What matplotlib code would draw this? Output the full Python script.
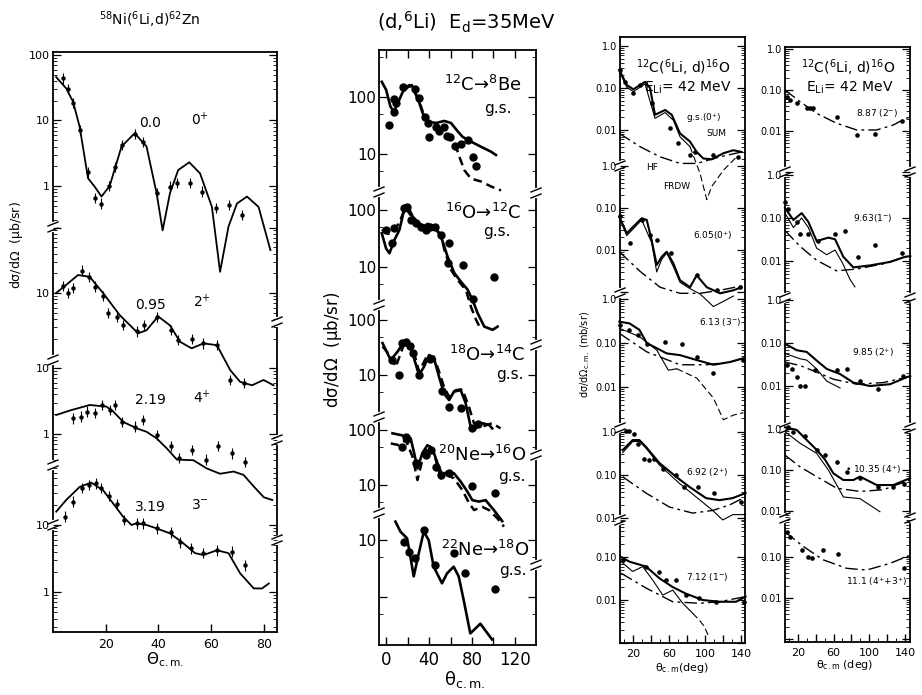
import numpy as np
import matplotlib
matplotlib.use("Agg")
import matplotlib.pyplot as plt
from matplotlib.ticker import LogLocator, FuncFormatter, NullFormatter, FixedLocator

plt.rcParams['font.family'] = ['DejaVu Sans']
plt.rcParams['mathtext.default'] = 'regular'

# ======================= DATA =======================
# ---- Panel 1 : 58Ni(6Li,d)62Zn ----
ni00_th_c = [1.2, 5.0, 7.6, 10.1, 13.3, 15.8, 18.4, 21.5, 26.0, 31.0, 35.5, 39.3, 41.6, 44.4, 47.5, 51.7, 55.8, 60.3, 63.4, 66.6, 69.8, 73.6, 78.0, 82.5]
ni00_c = [46, 31, 19.4, 8.05, 1.31, 0.98, 0.69, 1.0, 4.0, 6.4, 4.0, 0.78, 0.21, 0.78, 1.75, 2.3, 1.56, 0.48, 0.049, 0.24, 0.54, 0.69, 0.48, 0.105]
ni00_th_p = [3.7, 5.6, 7.5, 10.3, 13.3, 15.8, 18.4, 21.3, 23.4, 26.2, 31, 34.2, 39.3, 44.4, 46.9, 52, 56.4, 61.9, 66.8, 71.9]
ni00_p = [44, 30, 18.7, 7.2, 1.65, 0.65, 0.54, 1.0, 1.97, 4.2, 6.2, 4.7, 0.79, 0.98, 1.12, 1.12, 0.82, 0.46, 0.51, 0.36]

ni095_th_c = [1.2, 5.0, 9.5, 13.9, 19, 25.3, 32.3, 35.5, 39.9, 44.4, 48.2, 52.6, 57.1, 62.2, 67.2, 71, 75.5, 79.9, 83.7]
ni095_c = [10, 13.3, 18.8, 17.7, 10, 4.6, 2.43, 2.7, 4.4, 3.2, 1.8, 1.43, 1.7, 1.6, 0.67, 0.44, 0.39, 0.47, 0.39]
ni095_th_p = [3.7, 5.6, 7.5, 11.1, 13.6, 15.8, 19, 20.9, 24.1, 26.6, 31.7, 34.5, 39.6, 44.6, 47.5, 52.6, 57.1, 62.2, 67.2, 72.3]
ni095_p = [12.8, 10, 11.8, 22, 17.7, 12.5, 9.0, 4.9, 4.3, 3.25, 2.6, 3.25, 4.3, 2.7, 1.9, 2.0, 1.7, 1.6, 0.47, 0.42]

ni219_th_c = [1.2, 6.9, 13.9, 20.3, 22.8, 26.6, 31.7, 35.5, 39.3, 43.1, 47, 53.3, 58.4, 63.4, 68.5, 72.3, 76.2, 80, 83.2]
ni219_c = [1.94, 2.3, 2.75, 2.6, 2.2, 1.53, 1.22, 1.08, 0.86, 0.61, 0.41, 0.40, 0.30, 0.25, 0.27, 0.24, 0.16, 0.11, 0.10]
ni219_th_p = [7.6, 10.7, 12.9, 16.1, 18.7, 21.5, 23.4, 26.3, 31, 34.2, 39.3, 44.6, 47.8, 52.6, 58.1, 62.8, 67.9, 73]
ni219_p = [1.73, 1.83, 2.18, 2.1, 2.75, 2.3, 2.75, 1.53, 1.29, 1.63, 0.97, 0.66, 0.43, 0.57, 0.41, 0.66, 0.51, 0.38]

ni319_th_c = [1.2, 5, 10.1, 14.5, 19, 22.8, 26.6, 29.8, 31.7, 35.5, 39.3, 44.4, 48.8, 53.9, 57.1, 62.2, 66.6, 71, 76.2, 79.3, 81.9]
ni319_c = [15.8, 23.6, 37, 43, 33, 21, 13.3, 10, 10.6, 10, 8.9, 7.5, 5.6, 3.8, 3.56, 4.2, 3.8, 1.9, 1.13, 1.13, 1.34]
ni319_th_p = [4.5, 7.6, 11, 13.6, 16.4, 18.4, 21.3, 24.1, 26.9, 31.9, 34.2, 39.3, 44.6, 48.2, 52.3, 57.1, 62.4, 67.9, 73]
ni319_p = [13.3, 22.3, 35.5, 39.5, 42, 35.5, 27, 20.4, 11.9, 10.6, 10.6, 8.9, 7.8, 5.5, 4.5, 3.8, 4.2, 4.0, 2.5]
NI_REL_ERR = 0.2

# ---- Panel 2 : (d,6Li) Ed = 35 MeV ----
be_th_s = [-4.4, -0.3, 3.7, 6.9, 10.6, 15.3, 19.9, 23.7, 26.8, 30.8, 33.9, 38.6, 46.4, 54.2, 60.4, 66.7, 71.3, 79.1, 88.5, 97.8, 102.5]
be_s = [185, 133, 68, 55, 78, 124, 148, 162, 124, 78, 52, 37, 35, 38, 35, 25, 20, 16.5, 13.4, 11, 9.6]
be_th_d = [16.8, 21.5, 27.0, 32.4, 35.5, 43.3, 51.1, 60.4, 65.1, 68.2, 72.9, 79.1, 88.5, 97.8, 107.2]
be_d = [142, 162, 115, 68, 45, 32, 25, 19, 13.4, 9, 5.2, 3.7, 3.3, 2.7, 2.3]
be_th_p = [1.9, 6.9, 7.5, 9.0, 15.9, 27.1, 30.8, 36.1, 39.2, 40.2, 46.4, 49.5, 53.5, 56.7, 59.8, 64.2, 69.8, 76.6, 80.7, 83.8]
be_p = [32, 91, 55, 78, 148, 136, 95, 45, 35, 20, 29.4, 25.6, 30, 20.7, 19.6, 13.8, 15, 17.6, 8.8, 6.2]

c12_th_s = [-4.4, -0.3, 2.8, 7.5, 12.1, 16.8, 19.9, 24.6, 29.3, 33.9, 38.6, 44.9, 51.1, 57.3, 63.6, 69.8, 76, 80.7, 85.4, 91.6, 99.4, 104]
c12_s = [39, 21, 17.4, 30, 44.6, 107, 117, 76, 62, 51, 57, 51, 34, 15, 7.8, 5.5, 4.0, 2.6, 1.54, 0.9, 0.79, 0.9]
c12_th_d = [-4.4, 2.0, 7.0, 12.1, 17.5, 24.6, 33.9, 44.9, 51.1, 54.2, 60.4, 66.7, 74.5, 79.1, 83.8, 88.5]
c12_d = [45, 38, 44, 60, 110, 72, 52, 51, 36, 20, 8.9, 5.9, 3.9, 2.0, 1.2, 0.79]
c12_th_p = [-0.3, 5, 6.9, 16.8, 19.3, 23, 27.7, 32.4, 37, 41.1, 45.4, 51.1, 58.9, 57.9, 71.3, 80.7, 100.3]
c12_p = [44.6, 26, 48, 107, 114, 67, 60, 51, 44.6, 51, 51, 36.5, 26, 11.6, 10.8, 2.8, 6.8]

c14_th_s = [-3.7, 4, 10.3, 16.5, 19.6, 24.3, 30.5, 35.2, 39.9, 44.5, 49.2, 53.9, 58.6, 63.2, 69.5, 74.1, 78.8, 83.5, 89.7, 96, 99]
c14_s = [38, 18.7, 26.5, 40, 43, 24.8, 10, 14.2, 23, 20, 9.3, 4.6, 3.5, 5.0, 5.3, 3.1, 1.15, 1.07, 1.33, 1.24, 1.07]
c14_th_d = [-3.7, 5.6, 8.7, 18, 25.9, 30.5, 38.3, 44.5, 49.2, 53.9, 58.6, 64.8, 71, 77.3, 81.9, 89.7, 99, 106.8]
c14_d = [33, 20, 14, 44.5, 24.8, 11.5, 23, 21.5, 11.5, 6.1, 4.0, 5.3, 5.5, 2.6, 1.33, 1.15, 1.33, 1.07]
c14_th_p = [5.6, 11.8, 14.3, 18, 21.8, 24.9, 30.5, 40.5, 51.7, 58.6, 69.5, 80.4, 86]
c14_p = [18.7, 10, 38, 40, 33, 24.8, 10, 19.3, 5.2, 2.6, 2.5, 1.07, 1.3]

o16_th_s = [5.6, 13.4, 18, 22.7, 25.9, 29, 33.6, 38.3, 43, 47.7, 52.3, 57, 63.2, 69.5, 75.7, 80.4, 86.6, 92.8, 100.6, 108.4]
o16_s = [87, 81, 76, 70, 38, 20, 38, 53, 46, 25, 15.2, 17.5, 16.3, 11.5, 7.6, 5.3, 5.0, 5.3, 3.5, 2.2]
o16_th_d = [4, 11.8, 18, 24.3, 29, 33.6, 39.9, 44.5, 50.8, 57, 63.2, 71, 77.3, 82, 89.7, 96, 103.7, 110]
o16_d = [57, 53, 66, 33, 12.3, 28.5, 53, 38, 13.2, 15.2, 13.2, 8.1, 4.7, 3.5, 4.0, 3.5, 2.5, 1.75]
o16_th_p = [14.9, 18, 19.6, 27.4, 36.7, 41.4, 46, 50.8, 58.6, 80.4, 102]
o16_p = [50, 76, 70, 24.8, 35, 43, 21.5, 15.2, 16.3, 9.4, 7.1]

o18_th_s = [8.4, 13.1, 19.3, 22.4, 25.5, 30.2, 34.9, 39.5, 44.2, 52, 56.7, 62.9, 67.6, 72.3, 78.5, 87.9, 98.8]
o18_s = [21, 14, 10.7, 5.1, 2.3, 5.8, 14, 10, 3.4, 1.74, 2.6, 3.4, 2.3, 0.88, 0.23, 0.34, 0.18]
o18_th_p = [16.2, 20.9, 27.1, 34.9, 45.8, 63.6, 73.8, 101.9]
o18_p = [9.3, 6.2, 4.8, 15, 3.6, 5.8, 2.6, 1.4]

# ---- Panel 3 : 12C(6Li,d)16O, levels g.s. ... 7.12 ----
gs_th_sum = [4.8, 13, 20.4, 33.3, 38.9, 44.4, 55.6, 63, 72.2, 83.3, 90.7, 98.1, 107.4, 120.4, 131.5, 140.7]
gs_sum = [0.27, 0.118, 0.093, 0.14, 0.1, 0.023, 0.03, 0.023, 0.0083, 0.0053, 0.003, 0.0021, 0.002, 0.0028, 0.0033, 0.003]
gs_th_fr = [4.8, 13, 20.4, 33.3, 44.4, 55.6, 64.8, 72.2, 83.3]
gs_fr = [0.25, 0.104, 0.082, 0.125, 0.019, 0.026, 0.017, 0.0069, 0.004]
gs_th_frt = [83.3, 94.4, 101.9, 107.4, 120.4, 135.2]
gs_frt = [0.004, 0.00093, 0.00022, 0.00045, 0.0011, 0.0023]
gs_th_hf = [4.8, 27.8, 50, 72.2, 90.7, 116.7, 140.7]
gs_hf = [0.0083, 0.004, 0.0023, 0.0016, 0.0016, 0.0023, 0.003]
gs_th_p = [5.5, 11.1, 20.4, 27.8, 40.7, 61, 70.4, 83.3, 88.9, 109.3, 137]
gs_p = [0.27, 0.14, 0.075, 0.118, 0.043, 0.011, 0.0048, 0.0025, 0.003, 0.0026, 0.0023]

e605_th_sum = [4.8, 13, 29.6, 35.2, 40.7, 46.3, 51.9, 57.4, 64.8, 72.2, 83.3, 90.7, 101.9, 116.7, 131.5, 140.7]
e605_sum = [0.062, 0.025, 0.057, 0.052, 0.017, 0.0044, 0.0069, 0.0091, 0.0048, 0.0019, 0.0013, 0.0025, 0.0013, 0.00093, 0.0011, 0.0013]
e605_th_fr = [4.8, 13, 29.6, 40.7, 46.3, 51.9, 57.4, 64.8, 72.2, 83.3, 94.4, 109.3, 120.4, 131.5]
e605_fr = [0.058, 0.022, 0.052, 0.015, 0.003, 0.006, 0.0085, 0.004, 0.0017, 0.0012, 0.0009, 0.00045, 0.0006, 0.0008]
e605_th_hf = [4.8, 27.8, 50, 72.2, 94.4, 116.7, 140.7]
e605_hf = [0.0091, 0.0031, 0.0013, 0.00093, 0.00093, 0.0011, 0.0014]
e605_th_p = [5.5, 16.8, 29.6, 38.9, 47, 62, 90.7, 112.9, 139]
e605_p = [0.066, 0.0145, 0.052, 0.023, 0.017, 0.0084, 0.0025, 0.0011, 0.0013]

e613_th_sum = [4.8, 15.9, 27, 35.2, 57.4, 72.2, 90.7, 109.3, 127.8, 142.6]
e613_sum = [0.305, 0.28, 0.2, 0.1, 0.058, 0.053, 0.041, 0.032, 0.037, 0.045]
e613_th_fr = [4.8, 27, 46.3, 59.3, 68.5]
e613_fr = [0.216, 0.14, 0.069, 0.024, 0.026]
e613_th_frt = [68.5, 90.7, 109.3, 120.4, 131.5, 142.6]
e613_frt = [0.026, 0.016, 0.0056, 0.0018, 0.0023, 0.0026]
e613_th_hf = [4.8, 35.2, 72.2, 101.9, 127.8, 142.6]
e613_hf = [0.166, 0.063, 0.032, 0.032, 0.037, 0.045]
e613_th_p = [5.5, 16, 25, 35.2, 55.6, 74, 90.7, 109.3, 142.6]
e613_p = [0.25, 0.2, 0.15, 0.095, 0.107, 0.095, 0.049, 0.021, 0.041]

e692_th_sum = [8.5, 19.6, 27, 34.4, 49.3, 67.8, 82.6, 101.1, 115.9, 130.7, 145]
e692_sum = [0.38, 0.65, 0.65, 0.45, 0.19, 0.091, 0.053, 0.029, 0.026, 0.029, 0.038]
e692_th_fr = [8.5, 19.6, 27, 34.4, 49.3, 71.5, 90, 108.5, 119.6, 131, 145]
e692_fr = [0.33, 0.6, 0.6, 0.42, 0.17, 0.064, 0.031, 0.015, 0.009, 0.012, 0.012]
e692_th_hf = [8.5, 34.4, 60.4, 86.3, 108.5, 127, 145]
e692_hf = [0.091, 0.038, 0.018, 0.013, 0.015, 0.02, 0.031]
e692_th_p = [12.2, 15.9, 21.5, 25.2, 32.6, 38.1, 43.7, 53, 67.8, 77, 91.9, 110.4, 140]
e692_p = [1.07, 1.07, 0.9, 0.54, 0.24, 0.22, 0.24, 0.14, 0.1, 0.053, 0.053, 0.038, 0.024]

e712_th_sum = [6.7, 15.9, 34.4, 49.3, 64.1, 78.9, 97.4, 115.9, 134.4, 145]
e712_sum = [0.1, 0.078, 0.06, 0.032, 0.02, 0.014, 0.01, 0.0091, 0.0091, 0.012]
e712_th_fr = [6.7, 19.6, 30.7, 41.9, 53, 64.1, 75.2, 86.3]
e712_fr = [0.078, 0.046, 0.06, 0.029, 0.013, 0.017, 0.0084, 0.0049]
e712_th_frt = [86.3, 93.7, 99.3, 104.8]
e712_frt = [0.0049, 0.0034, 0.0024, 0.0013]
e712_th_hf = [6.7, 34.4, 64.1, 93.7, 115.9, 145]
e712_hf = [0.042, 0.019, 0.0091, 0.0084, 0.0091, 0.012]
e712_th_p = [8.5, 34.4, 49.3, 56.7, 67.8, 78.9, 93.7, 112.2, 143.7]
e712_p = [0.085, 0.06, 0.046, 0.029, 0.029, 0.013, 0.011, 0.0091, 0.0091]

# ---- Panel 4 : 12C(6Li,d)16O, levels 8.87 ... 11.1 ----
e887_th_hf = [5.6, 22.4, 41, 63.5, 85.9, 108.3, 127, 140.1, 146]
e887_hf = [0.1, 0.052, 0.027, 0.0154, 0.0106, 0.0106, 0.014, 0.02, 0.022]
e887_th_p = [7.5, 11.2, 18.7, 30.2, 33.6, 37, 63.5, 85.9, 106.5, 136.4]
e887_p = [0.069, 0.056, 0.047, 0.036, 0.036, 0.036, 0.022, 0.008, 0.0086, 0.018]

e963_th_sum = [5.6, 15, 24.3, 31.8, 41.1, 54.2, 61.7, 71, 82.2, 100.9, 123.3, 140.1, 146]
e963_sum = [0.17, 0.09, 0.13, 0.081, 0.029, 0.035, 0.032, 0.0125, 0.0071, 0.0079, 0.0095, 0.0125, 0.013]
e963_th_fr = [5.6, 15, 24.3, 31.8, 41, 52.3, 61.7, 70, 78.5, 84]
e963_fr = [0.13, 0.06, 0.1, 0.06, 0.02, 0.014, 0.018, 0.009, 0.0037, 0.0025]
e963_th_hf = [5.6, 22.4, 41, 63.5, 85.9, 115.8, 140.1, 146]
e963_hf = [0.051, 0.022, 0.0104, 0.0059, 0.0065, 0.0086, 0.0125, 0.013]
e963_th_p = [5.6, 9.3, 18.7, 22.4, 31.8, 43, 61.7, 72.9, 87.8, 106.5, 136.4]
e963_p = [0.23, 0.16, 0.081, 0.042, 0.042, 0.029, 0.042, 0.051, 0.0125, 0.024, 0.015]

e985_th_sum = [5.6, 18.7, 29.9, 41.1, 52.3, 67.3, 82.2, 100.9, 123.3, 142, 146]
e985_sum = [0.096, 0.068, 0.062, 0.039, 0.025, 0.019, 0.012, 0.01, 0.011, 0.016, 0.017]
e985_th_fr = [5.6, 22.4, 30, 41, 52.3, 67.3]
e985_fr = [0.057, 0.043, 0.04, 0.025, 0.013, 0.009]
e985_th_hf = [5.6, 22.4, 41, 59.8, 85.9, 115.8, 142, 146]
e985_hf = [0.036, 0.03, 0.021, 0.0144, 0.011, 0.012, 0.016, 0.017]
e985_th_p = [7.5, 13.1, 18.7, 22.4, 28, 39.2, 63.5, 74.7, 89.7, 110.2, 138.3]
e985_p = [0.03, 0.025, 0.016, 0.01, 0.01, 0.023, 0.023, 0.025, 0.013, 0.0084, 0.017]

e1035_th_sum = [5.6, 18.7, 29.9, 41.1, 50.4, 59.8, 71, 82.2, 89.7, 108.3, 127, 145.7]
e1035_sum = [1.1, 0.95, 0.54, 0.31, 0.18, 0.083, 0.057, 0.057, 0.069, 0.043, 0.043, 0.063]
e1035_th_fr = [5.6, 22.4, 41, 54.2, 71, 89.7, 112]
e1035_fr = [0.86, 0.45, 0.255, 0.1, 0.022, 0.02, 0.0096]
e1035_th_hf = [5.6, 22.4, 41, 63.5, 89.7, 115.8, 145.7]
e1035_hf = [0.23, 0.12, 0.069, 0.036, 0.03, 0.033, 0.057]
e1035_th_p = [9.3, 15, 28, 41.1, 50.4, 63.5, 74.7, 89.7, 110.2, 127, 139]
e1035_p = [1.1, 0.86, 0.69, 0.31, 0.23, 0.16, 0.09, 0.063, 0.039, 0.039, 0.045]

e111_th_hf = [5.6, 26.2, 48.6, 74.7, 97.1, 123.3, 145.7]
e111_hf = [0.41, 0.18, 0.085, 0.053, 0.048, 0.07, 0.11]
e111_th_p = [7.5, 11.2, 24.3, 31.8, 35.5, 48.6, 65.4, 139]
e111_p = [0.41, 0.31, 0.15, 0.1, 0.093, 0.15, 0.12, 0.053]

# ======================= FIGURE =======================
W, H = 922, 695
fig = plt.figure(figsize=(W / 100, H / 100), dpi=100)


def rect(x0, x1, y0, y1):
    return [x0 / W, 1 - y1 / H, (x1 - x0) / W, (y1 - y0) / H]


def make_frame(x0, x1, y0, y1, xlim, major, labelled, fs, minor=None, top=False):
    ax = fig.add_axes(rect(x0, x1, y0, y1))
    ax.set_xlim(*xlim)
    ax.set_ylim(0, 1)
    ax.set_yticks([])
    ax.set_xticks(major)
    ax.set_xticklabels([str(t) if t in labelled else '' for t in major])
    if minor is not None:
        ax.xaxis.set_minor_locator(FixedLocator(minor))
    ax.tick_params(axis='x', which='major', direction='in', length=6, width=1.0,
                   top=top, labelsize=fs, pad=4)
    ax.tick_params(axis='x', which='minor', direction='in', length=3, width=0.7, top=top)
    for s in ax.spines.values():
        s.set_linewidth(1.3)
    ax.box_px = (x0, x1, y0, y1)
    return ax


def fmt_plain(v):
    return '%g' % v


def fmt_mb(v):
    return {1.0: '1.0', 0.1: '0.10', 0.01: '0.01'}.get(round(v, 6), '')


def make_sub(frame, y0, y1, ref_val, ref_px, dec_px, labels, fmt, subs, fs):
    x0, x1 = frame.box_px[0], frame.box_px[1]
    ax = fig.add_axes(rect(x0, x1, y0, y1))
    ax.set_yscale('log')
    ax.set_ylim(ref_val * 10 ** ((ref_px - y1) / dec_px), ref_val * 10 ** ((ref_px - y0) / dec_px))
    ax.set_xlim(frame.get_xlim())
    ax.patch.set_visible(False)
    for s in ax.spines.values():
        s.set_visible(False)
    ax.tick_params(axis='x', which='both', bottom=False, labelbottom=False)
    ax.yaxis.set_major_locator(LogLocator(base=10, numticks=30))
    ax.yaxis.set_minor_locator(LogLocator(base=10, subs=subs, numticks=30))
    ax.yaxis.set_major_formatter(FuncFormatter(
        lambda v, p: fmt(v) if any(abs(np.log10(v) - np.log10(l)) < 1e-6 for l in labels) else ''))
    ax.yaxis.set_minor_formatter(NullFormatter())
    ax.tick_params(axis='y', which='major', direction='in', length=6, width=0.9,
                   left=True, right=True, labelsize=fs, pad=2)
    ax.tick_params(axis='y', which='minor', direction='in', length=3, width=0.6,
                   left=True, right=True)
    return ax


def brk(frame, y_px, side='left'):
    x0, x1, y0, y1 = frame.box_px
    wp, hp = x1 - x0, y1 - y0
    f = (y1 - y_px) / hp
    xs = 0.0 if side == 'left' else 1.0
    frame.plot([xs, xs], [f - 3 / hp, f + 3 / hp], color='white', lw=3,
               transform=frame.transAxes, clip_on=False, zorder=5)
    for d in (-3, 3):
        frame.plot([xs - 5 / wp, xs + 5 / wp], [f + (d - 2) / hp, f + (d + 2) / hp],
                   color='black', lw=1.0, transform=frame.transAxes, clip_on=False, zorder=6)


def txt(x, y, s, fs, ha='center', va='center', **kw):
    fig.text(x / W, 1 - y / H, s, fontsize=fs, ha=ha, va=va, **kw)


K = 'black'
SOLID1 = dict(color=K, lw=1.3, clip_on=False)
SOLID = dict(color=K, lw=1.5, clip_on=False)
SOLID2 = dict(color=K, lw=1.9, clip_on=False)
THIN = dict(color=K, lw=0.8, clip_on=False)
DASH2 = dict(color=K, lw=1.8, ls=(0, (3.5, 2)), clip_on=False)
DASH = dict(color=K, lw=0.8, ls=(0, (6, 3)), clip_on=False)
HF = dict(color=K, lw=1.0, ls=(0, (9, 3, 2, 3)), clip_on=False)

# ---------------- Panel 1 ----------------
f1 = make_frame(53, 277, 52, 632, (0, 85), [20, 40, 60, 80], [20, 40, 60, 80], 9)
subs_all = np.arange(2, 10)
p1 = [
    (52, 227, 100, 55, 65.5, [100, 10, 1], ni00_th_c, ni00_c, ni00_th_p, ni00_p),
    (227, 352, 10, 293, 65.5, [10], ni095_th_c, ni095_c, ni095_th_p, ni095_p),
    (352, 465, 10, 368, 66, [10, 1], ni219_th_c, ni219_c, ni219_th_p, ni219_p),
    (465, 632, 10, 525, 67, [10, 1], ni319_th_c, ni319_c, ni319_th_p, ni319_p),
]
for y0, y1, rv, rp, dp, lab, thc, vc, thp, vp in p1:
    ax = make_sub(f1, y0, y1, rv, rp, dp, lab, fmt_plain, subs_all, 8)
    ax.plot(thc, vc, **SOLID1)
    vp = np.array(vp)
    ax.errorbar(thp, vp, yerr=[vp - vp / (1 + NI_REL_ERR), vp * NI_REL_ERR], fmt='o',
                ms=2.2, color=K, elinewidth=0.8, capsize=0, clip_on=False)
for yb in (227, 360, 465, 525):
    brk(f1, yb, 'left')
for yb in (322, 440, 540):
    brk(f1, yb, 'right')
txt(150, 20, r'$^{58}$Ni($^{6}$Li,d)$^{62}$Zn', 10)
for x, y, s in [(150, 123, '0.0'), (200, 120, r'0$^{+}$'), (150, 305, '0.95'), (202, 302, r'2$^{+}$'),
                (150, 400, '2.19'), (202, 398, r'4$^{+}$'), (150, 507, '3.19'), (200, 505, r'3$^{-}$')]:
    txt(x, y, s, 10)
txt(17, 245, r'd$\sigma$/d$\Omega$  ($\mu$b/sr)', 9, rotation=90)
txt(165, 660, r'$\Theta_{c.m.}$', 11)

# ---------------- Panel 2 ----------------
f2 = make_frame(379, 536, 50, 645, (-7, 140), [0, 20, 40, 60, 80, 100, 120], [0, 40, 80, 120], 12, top=True)
subs5 = [5.0]
p2 = [
    (50, 192, 100, 97, 57, [100, 10], be_th_s, be_s, be_th_d, be_d, be_th_p, be_p),
    (192, 305, 100, 210, 57, [100, 10], c12_th_s, c12_s, c12_th_d, c12_d, c12_th_p, c12_p),
    (305, 417, 100, 320, 55, [100, 10], c14_th_s, c14_s, c14_th_d, c14_d, c14_th_p, c14_p),
    (417, 513, 100, 430, 55, [100, 10], o16_th_s, o16_s, o16_th_d, o16_d, o16_th_p, o16_p),
    (513, 645, 10, 540, 57, [10], o18_th_s, o18_s, None, None, o18_th_p, o18_p),
]
for y0, y1, rv, rp, dp, lab, ths, vs, thd, vd, thp, vp in p2:
    ax = make_sub(f2, y0, y1, rv, rp, dp, lab, fmt_plain, subs5, 11)
    ax.plot(ths, vs, **SOLID2)
    if thd is not None:
        ax.plot(thd, vd, **DASH2)
    ax.plot(thp, vp, 'o', ms=5, color=K, clip_on=False)
for yb in (192, 305, 417, 513):
    brk(f2, yb, 'left')
for yb in (193, 345, 455, 565):
    brk(f2, yb, 'right')
txt(466, 22, r'(d,$^{6}$Li)  E$_{d}$=35MeV', 14)
for x, y, s, g in [(483, 85, r'$^{12}$C→$^{8}$Be', (498, 108)), (483, 213, r'$^{16}$O→$^{12}$C', (497, 231)),
                   (487, 355, r'$^{18}$O→$^{14}$C', (510, 375)), (482, 455, r'$^{20}$Ne→$^{16}$O', (512, 477)),
                   (485, 550, r'$^{22}$Ne→$^{18}$O', (513, 571))]:
    txt(x, y, s, 13)
    txt(g[0], g[1], 'g.s.', 11)
txt(333, 350, r'd$\sigma$/d$\Omega$  ($\mu$b/sr)', 12, rotation=90)
txt(465, 680, r'$\theta_{c.m.}$', 13)

# ---------------- Panel 3 ----------------
xt = [20, 40, 60, 80, 100, 120, 140]
f3 = make_frame(620, 745, 37, 643, (5.5, 144.4), xt, [20, 60, 100, 140], 8,
                minor=[10, 30, 50, 70, 90, 110, 130])
p3 = [
    (37, 166, 0.1, 88, 42, [1.0, 0.1, 0.01], gs_th_sum, gs_sum, gs_th_fr, gs_fr, gs_th_frt, gs_frt, gs_th_hf, gs_hf, gs_th_p, gs_p),
    (166, 293, 0.1, 208, 42, [1.0, 0.1, 0.01], e605_th_sum, e605_sum, e605_th_fr, e605_fr, None, None, e605_th_hf, e605_hf, e605_th_p, e605_p),
    (293, 428, 0.1, 343, 44, [1.0, 0.1, 0.01], e613_th_sum, e613_sum, e613_th_fr, e613_fr, e613_th_frt, e613_frt, e613_th_hf, e613_hf, e613_th_p, e613_p),
    (428, 520, 0.1, 475, 43, [1.0, 0.1, 0.01], e692_th_sum, e692_sum, e692_th_fr, e692_fr, None, None, e692_th_hf, e692_hf, e692_th_p, e692_p),
    (520, 643, 0.1, 557, 43, [0.1, 0.01], e712_th_sum, e712_sum, e712_th_fr, e712_fr, e712_th_frt, e712_frt, e712_th_hf, e712_hf, e712_th_p, e712_p),
]
for y0, y1, rv, rp, dp, lab, ts, vs, tf, vf, tt, vt, th, vh, tp, vp in p3:
    ax = make_sub(f3, y0, y1, rv, rp, dp, lab, fmt_mb, subs_all, 7)
    ax.plot(ts, vs, **SOLID)
    ax.plot(tf, vf, **THIN)
    if tt is not None:
        ax.plot(tt, vt, **DASH)
    ax.plot(th, vh, **HF)
    ax.plot(tp, vp, 'o', ms=2.3, color=K, clip_on=False)
for yb in (166, 293, 428, 520):
    brk(f3, yb, 'left')
txt(683, 68, r'$^{12}$C($^{6}$Li, d)$^{16}$O', 10)
txt(688, 88, r'E$_{Li}$= 42 MeV', 10)
for x, y, s in [(704, 118, r'g.s.(0$^{+}$)'), (716, 133, 'SUM'), (652, 168, 'HF'), (677, 187, 'FRDW'),
                (713, 236, r'6.05(0$^{+}$)'), (720, 322, r'6.13 (3$^{-}$)'), (707, 473, r'6.92 (2$^{+}$)'),
                (707, 577, r'7.12 (1$^{-}$)')]:
    txt(x, y, s, 6.5)
txt(585, 355, r'd$\sigma$/d$\Omega_{c.m.}$ (mb/sr)', 7, rotation=90)
txt(682, 668, r'$\theta_{c.m}$(deg)', 8)

# ---------------- Panel 4 ----------------
f4 = make_frame(785, 910, 47, 642, (5.6, 145.7), xt, [20, 60, 100, 140], 8,
                minor=[10, 30, 50, 70, 90, 110, 130])
p4 = [
    (47, 172, 0.1, 90, 41, [1.0, 0.1, 0.01], None, None, None, None, e887_th_hf, e887_hf, e887_th_p, e887_p),
    (172, 298, 0.1, 218, 43, [1.0, 0.1, 0.01], e963_th_sum, e963_sum, e963_th_fr, e963_fr, e963_th_hf, e963_hf, e963_th_p, e963_p),
    (298, 428, 0.1, 343, 43, [1.0, 0.1, 0.01], e985_th_sum, e985_sum, e985_th_fr, e985_fr, e985_th_hf, e985_hf, e985_th_p, e985_p),
    (428, 518, 0.1, 470, 41, [1.0, 0.1, 0.01], e1035_th_sum, e1035_sum, e1035_th_fr, e1035_fr, e1035_th_hf, e1035_hf, e1035_th_p, e1035_p),
    (518, 642, 0.1, 557, 41, [0.1, 0.01], None, None, None, None, e111_th_hf, e111_hf, e111_th_p, e111_p),
]
for y0, y1, rv, rp, dp, lab, ts, vs, tf, vf, th, vh, tp, vp in p4:
    ax = make_sub(f4, y0, y1, rv, rp, dp, lab, fmt_mb, subs_all, 7)
    if ts is not None:
        ax.plot(ts, vs, **SOLID)
        ax.plot(tf, vf, **THIN)
    ax.plot(th, vh, **HF)
    ax.plot(tp, vp, 'o', ms=2.3, color=K, clip_on=False)
for yb in (172, 298, 428, 518):
    brk(f4, yb, 'left')
    brk(f4, yb, 'right')
txt(848, 68, r'$^{12}$C($^{6}$Li, d)$^{16}$O', 10)
txt(850, 88, r'E$_{Li}$= 42 MeV', 10)
for x, y, s in [(877, 113, r'8.87 (2$^{-}$)'), (873, 218, r'9.63(1$^{-}$)'), (873, 353, r'9.85 (2$^{+}$)'),
                (873, 470, r'• 10.35 (4$^{+}$)'), (877, 582, r'11.1 (4$^{+}$+3$^{+}$)')]:
    txt(x, y, s, 6.5)
txt(845, 665, r'$\theta_{c.m}$ (deg)', 8)

fig.savefig('out.png', dpi=100)
